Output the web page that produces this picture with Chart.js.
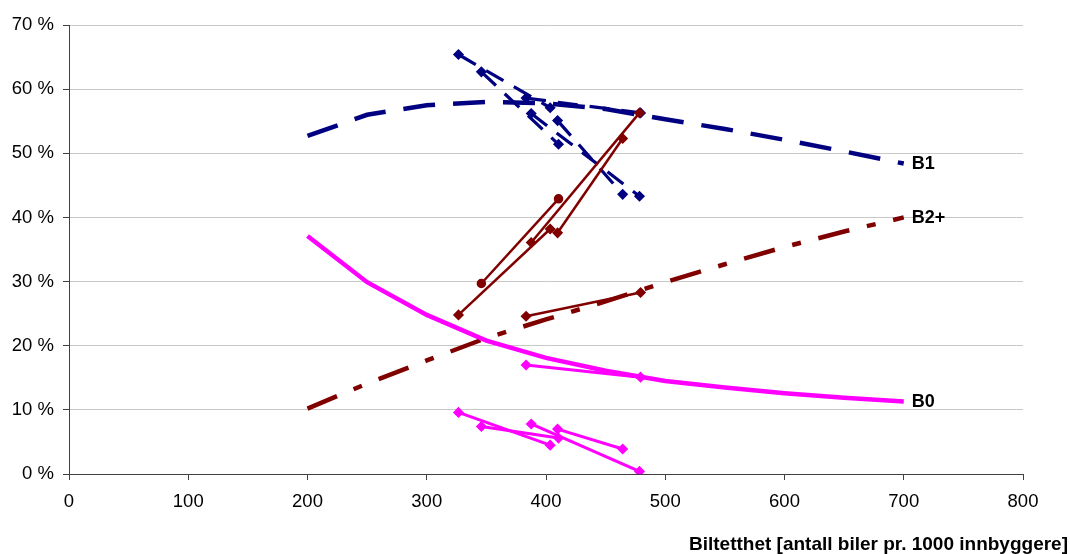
<!DOCTYPE html>
<html>
<head>
<meta charset="utf-8">
<script src="https://cdn.jsdelivr.net/npm/chart.js@4.4.1/dist/chart.umd.min.js"></script>
<style>
  html, body { margin: 0; padding: 0; background: #fff; }
  #wrap { width: 1070px; height: 554px; position: relative; }
</style>
</head>
<body>
<div id="wrap"><canvas id="chart"></canvas></div>
<script>
// model curves (car density -> share of households)
const curveX = [200, 250, 300, 350, 400, 450, 500, 550, 600, 650, 700];
const b1Curve = [52.7, 56.0, 57.5, 58.0, 57.8, 56.9, 55.3, 53.8, 52.1, 50.3, 48.4];
const b2Curve = [10.2, 14.1, 17.7, 21.2, 24.1, 26.9, 29.9, 32.7, 35.4, 37.8, 40.0];
const b0Curve = [37.1, 29.9, 24.8, 20.8, 18.1, 16.1, 14.5, 13.5, 12.6, 11.9, 11.3];
const curveNames = ["B1", "B2+", "B0"];

// observed pairs, one line per area (first and second survey)
const cityX1 = [326.6, 345.8, 387.6, 409.7, 383.3];
const cityX2 = [403.5, 410.5, 478.4, 464.3, 479.3];
const b1Y1 = [65.4, 62.7, 56.2, 55.1, 58.6];
const b1Y2 = [57.1, 51.4, 43.3, 43.6, 56.3];
const b2Y1 = [24.8, 29.7, 36.1, 37.6, 24.6];
const b2Y2 = [38.2, 42.9, 56.3, 52.3, 28.3];
const b0Y1 = [9.6, 7.4, 7.8, 7.0, 17.0];
const b0Y2 = [4.5, 5.6, 0.4, 3.9, 15.1];

const xTicksMax = 800;
const yTicksMax = 70;
const xTitle = "Biltetthet [antall biler pr. 1000 innbyggere]";

const NAVY = "#000080";
const RED = "#800000";
const PINK = "#ff00ff";
const FONT = '"Liberation Sans", Arial, sans-serif';

function pairSets(y1, y2, color, opts) {
  return cityX1.map((x1, i) => Object.assign({
    data: [{ x: x1, y: y1[i] }, { x: cityX2[i], y: y2[i] }],
    borderColor: color,
    backgroundColor: color,
    pointBorderColor: color,
    pointBackgroundColor: color,
    pointStyle: "rectRot",
    pointRadius: 4.5,
    pointBorderWidth: 1.5,
    showLine: true,
    tension: 0
  }, typeof opts === "function" ? opts(i) : opts));
}

function curveSet(vals, color, width, dash) {
  return {
    data: curveX.map((x, i) => ({ x: x, y: vals[i] })),
    borderColor: color,
    borderWidth: width,
    borderDash: dash,
    borderCapStyle: "butt",
    pointRadius: 0,
    showLine: true,
    tension: 0
  };
}

const datasets = [
  ...pairSets(b2Y1, b2Y2, RED, (i) => ({ borderWidth: 2.5, pointStyle: i === 1 ? "circle" : "rectRot", pointRadius: i === 1 ? 4 : 4.5 })),
  ...pairSets(b1Y1, b1Y2, NAVY, { borderWidth: 3.2, borderDash: [20, 12] }),
  ...pairSets(b0Y1, b0Y2, PINK, { borderWidth: 3 }),
  curveSet(b0Curve, PINK, 4.5, []),
  curveSet(b1Curve, NAVY, 4.5, [32, 18]),
  curveSet(b2Curve, RED, 4.5, [32, 18, 9, 18])
];

const endLabels = {
  id: "endLabels",
  afterDatasetsDraw(chart) {
    const { ctx, scales: { x, y } } = chart;
    const last = curveX.length - 1;
    const curves = [b1Curve, b2Curve, b0Curve];
    ctx.save();
    ctx.fillStyle = "#000";
    ctx.font = "bold 18px " + FONT;
    ctx.textAlign = "left";
    ctx.textBaseline = "middle";
    curves.forEach((vals, i) => {
      ctx.fillText(curveNames[i], x.getPixelForValue(curveX[last]) + 8, y.getPixelForValue(vals[last]) + 0.5);
    });
    ctx.font = "bold 19px " + FONT;
    ctx.textAlign = "right";
    ctx.textBaseline = "alphabetic";
    ctx.fillText(xTitle, chart.width - 2, chart.height - 4);
    ctx.restore();
  }
};

new Chart(document.getElementById("chart"), {
  type: "scatter",
  data: { datasets: datasets },
  options: {
    responsive: true,
    maintainAspectRatio: false,
    animation: false,
    devicePixelRatio: 1,
    layout: { padding: { left: 0, right: 47, top: 25, bottom: 0 } },
    plugins: { legend: { display: false }, tooltip: { enabled: false } },
    scales: {
      x: {
        type: "linear",
        min: 0,
        max: xTicksMax,
        ticks: { stepSize: 100, color: "#000", padding: 11, maxRotation: 0, font: { family: FONT, size: 18.5 } },
        grid: { drawOnChartArea: false, tickLength: 6, tickColor: "#404040" },
        border: { color: "#404040", width: 1 },
        afterFit(s) { s.height = 80; }
      },
      y: {
        min: 0,
        max: yTicksMax,
        ticks: { stepSize: 10, color: "#000", padding: 9, font: { family: FONT, size: 18.5 }, callback: (v) => v + " %" },
        grid: { color: "#c8c8c8", tickLength: 6, tickColor: "#404040" },
        border: { color: "#404040", width: 1 },
        afterFit(s) { s.width = 69; }
      }
    }
  },
  plugins: [endLabels]
});
</script>
</body>
</html>
